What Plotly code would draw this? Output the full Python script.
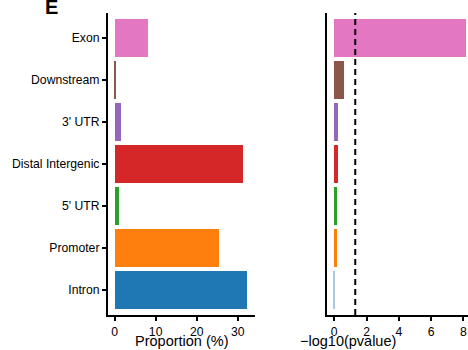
import plotly.graph_objects as go

categories = ["Intron", "Promoter", "5' UTR", "Distal Intergenic", "3' UTR", "Downstream", "Exon"]
proportion = [32.3, 25.5, 1.05, 31.2, 1.6, 0.3, 8.05]
neglog10p = [0.01, 0.18, 0.2, 0.25, 0.25, 0.6, 8.2]
colors = ["#1f77b4", "#ff7f0e", "#2ca02c", "#d62728", "#9467bd", "#8c564b", "#e377c2"]
threshold = 1.301
x1_ticks = [0, 10, 20, 30]
x2_ticks = [0, 2, 4, 6, 8]

W, H = 468, 350
font = "Liberation Sans, Arial, Helvetica, sans-serif"

fig = go.Figure()
fig.add_trace(go.Bar(y=categories, x=proportion, orientation="h", width=0.9,
                     marker=dict(color=colors, line=dict(width=0)),
                     xaxis="x", yaxis="y", showlegend=False))
fig.add_trace(go.Bar(y=categories, x=neglog10p, orientation="h", width=0.9,
                     marker=dict(color=colors, line=dict(width=0),
                                 opacity=[0.4, 1, 1, 1, 1, 1, 1]),
                     xaxis="x2", yaxis="y2", showlegend=False))

ydom = [1 - 315 / H, 1 - 13 / H]
axcommon = dict(showline=True, linecolor="black", linewidth=2.2, ticks="outside",
                ticklen=4, tickwidth=1.8, tickcolor="black", showgrid=False,
                zeroline=False, tickfont=dict(family=font, size=12.2, color="black"))

fig.update_layout(
    width=W, height=H, margin=dict(l=0, r=0, t=0, b=0),
    paper_bgcolor="white", plot_bgcolor="white", bargap=0,
    xaxis=dict(domain=[108 / W, 255 / W], range=[-1.6, 34.2], tickvals=x1_ticks,
               anchor="y", **axcommon),
    yaxis=dict(domain=ydom, range=[-0.6, 6.6], anchor="x",
               categoryorder="array", categoryarray=categories, **axcommon),
    xaxis2=dict(domain=[327.3 / W, 1], range=[-0.43, 8.28], tickvals=x2_ticks,
                anchor="y2", **axcommon),
    yaxis2=dict(domain=ydom, range=[-0.6, 6.6], anchor="x2",
                categoryorder="array", categoryarray=categories,
                showline=True, linecolor="black", linewidth=2.2, ticks="",
                showticklabels=False, showgrid=False, zeroline=False),
)

fig.add_shape(type="line", xref="x2", yref="paper", x0=threshold, x1=threshold,
              y0=ydom[0], y1=ydom[1], line=dict(color="black", width=2, dash="6px,4px"))

fig.add_annotation(text="Proportion (%)", xref="paper", yref="paper",
                   x=181.5 / W, y=1 - 340.5 / H, showarrow=False, yanchor="middle",
                   font=dict(family=font, size=14.5, color="black"))
fig.add_annotation(text="\u2212log10(pvalue)", xref="paper", yref="paper",
                   x=(327.3 + 468) / 2 / W, y=1 - 340.5 / H, showarrow=False, yanchor="middle",
                   font=dict(family=font, size=14.5, color="black"))
fig.add_annotation(text="<b>E</b>", xref="paper", yref="paper",
                   x=43 / W, y=1 - 7 / H, showarrow=False, xanchor="left", yanchor="middle",
                   font=dict(family=font, size=20, color="black"))

fig.write_html("out.html")
